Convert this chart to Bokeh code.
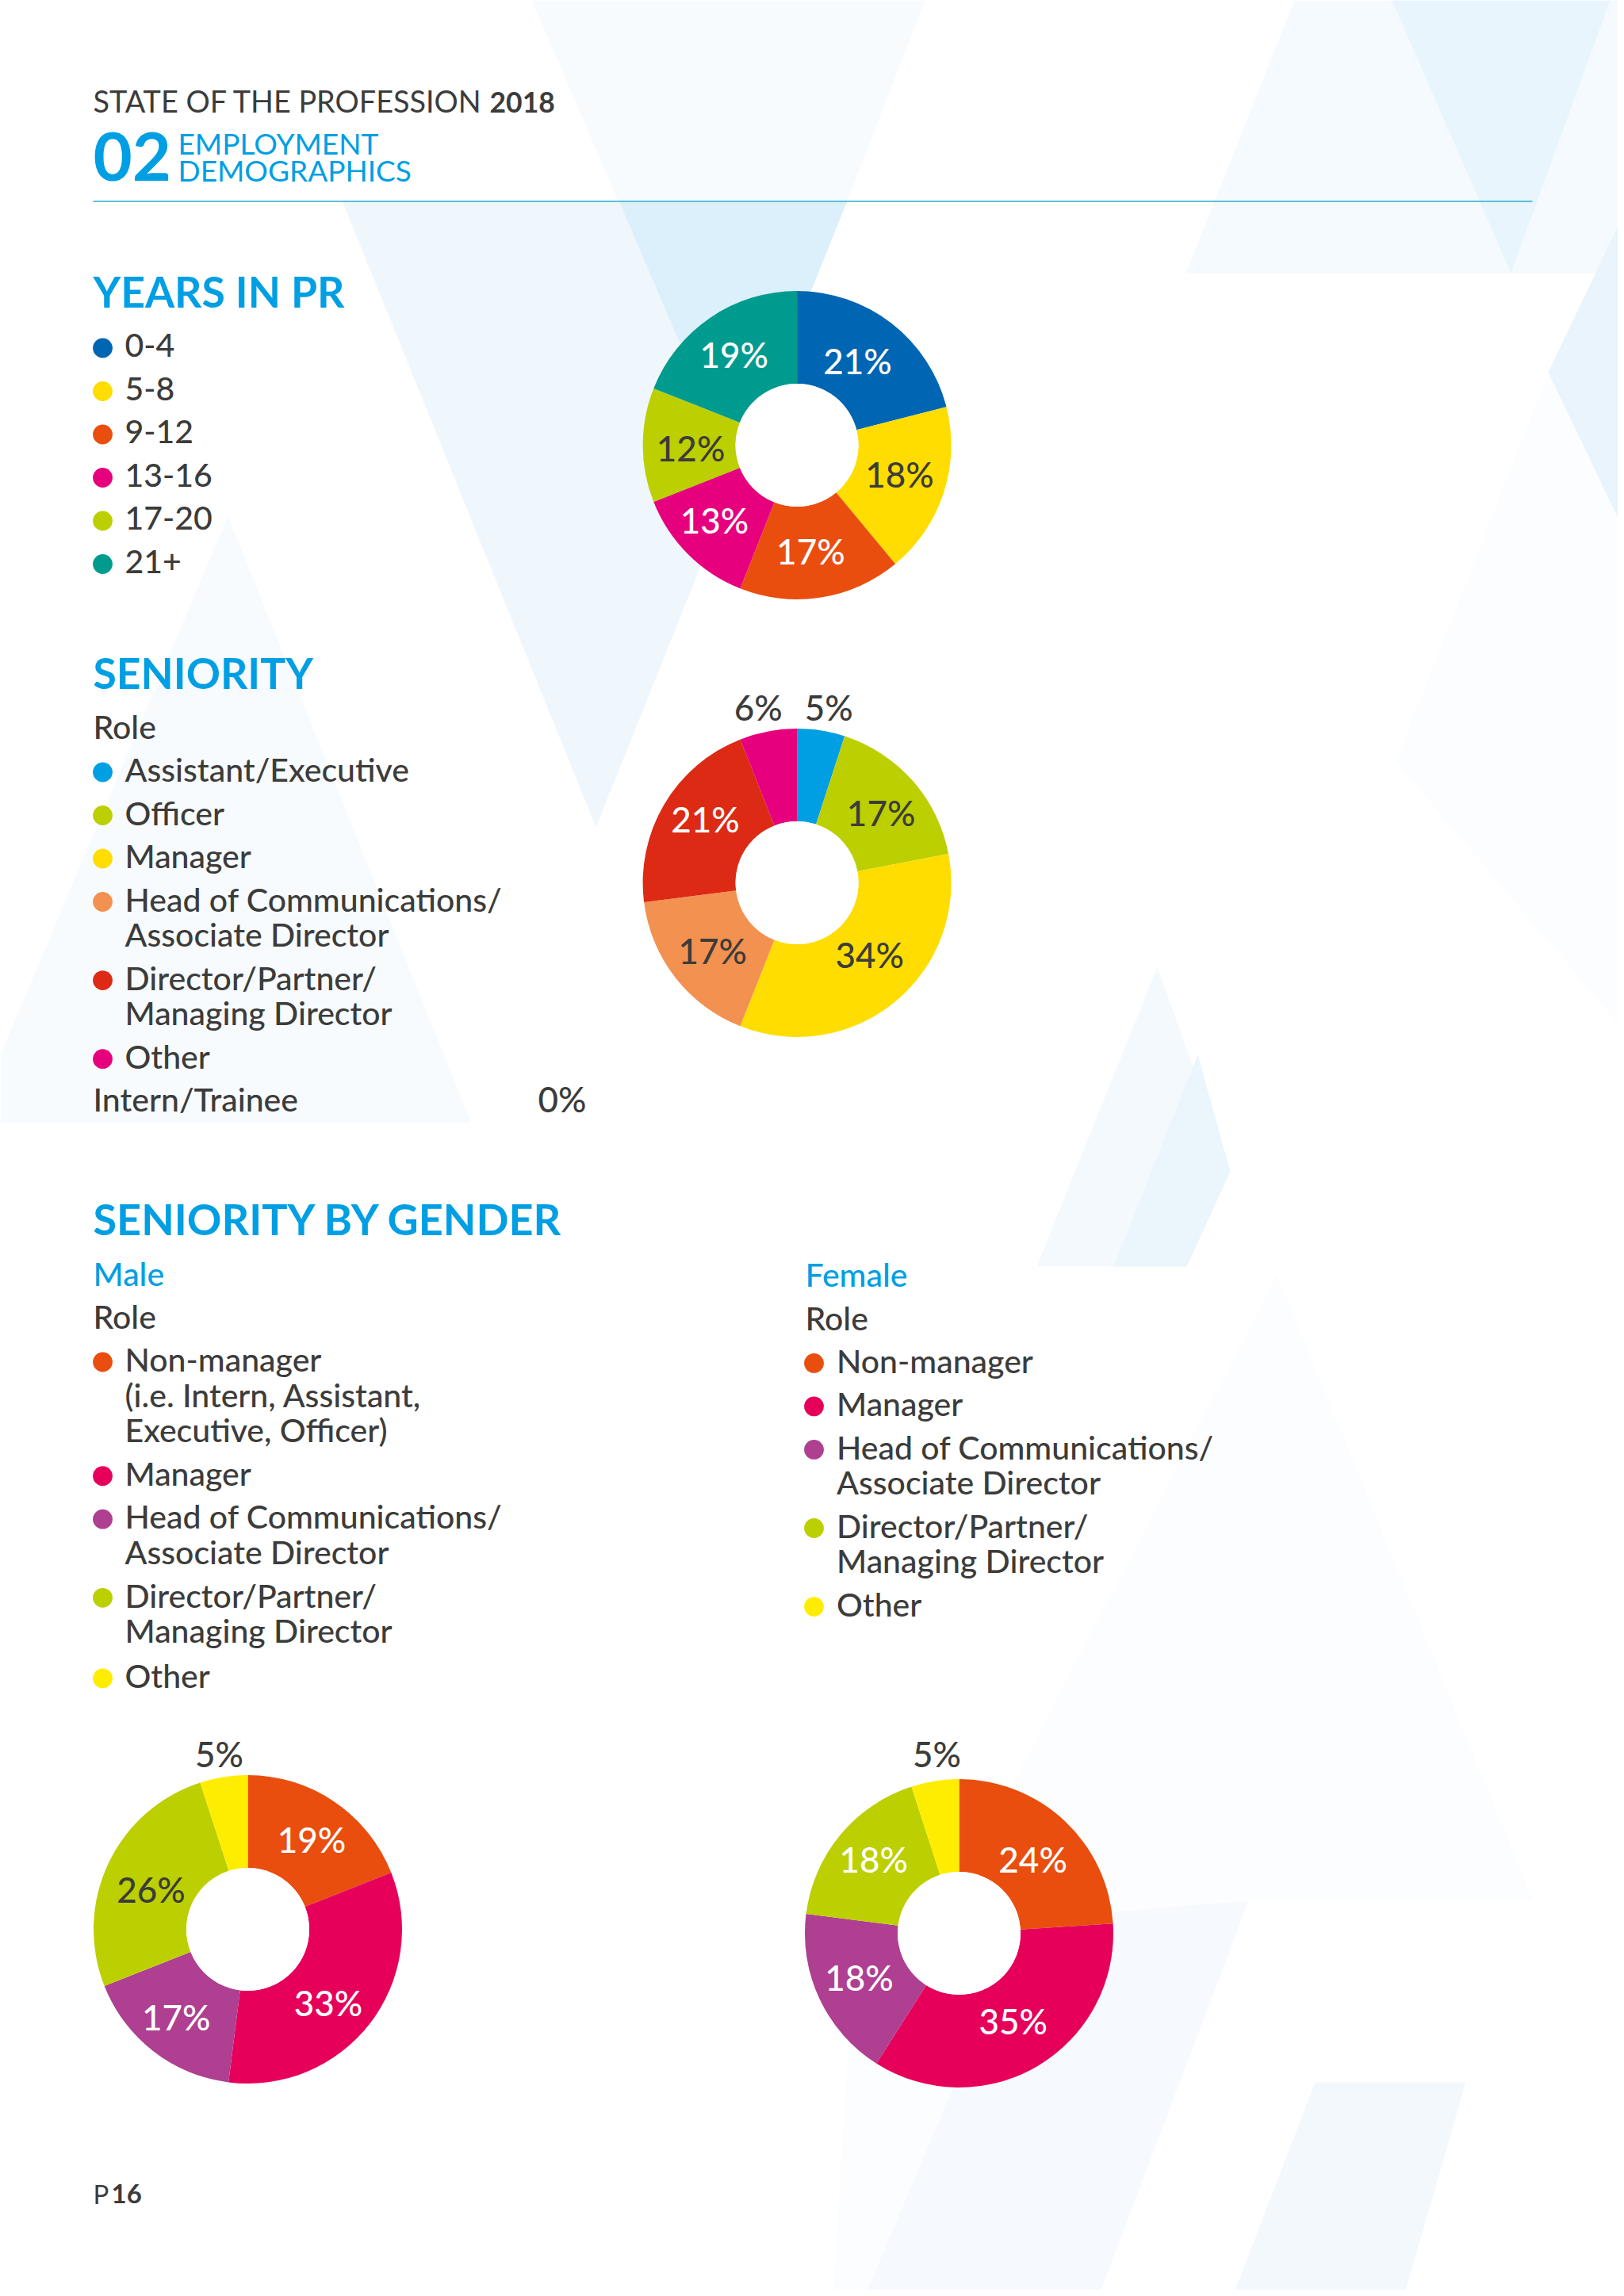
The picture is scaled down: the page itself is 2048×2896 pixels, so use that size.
from math import pi, sin, cos
from bokeh.core.properties import value
from bokeh.embed import file_html
from bokeh.models import ColumnDataSource, Range1d
from bokeh.plotting import figure
from bokeh.resources import INLINE

# ---------- data ----------
years_categories = ["0-4", "5-8", "9-12", "13-16", "17-20", "21+"]
years_values = [21, 18, 17, 13, 12, 19]

seniority_categories = ["Assistant/Executive", "Officer", "Manager",
                        "Head of Communications/\nAssociate Director",
                        "Director/Partner/\nManaging Director", "Other"]
seniority_values = [5, 17, 34, 17, 21, 6]
seniority_extra_label = "Intern/Trainee"
seniority_extra_value = 0

male_categories = ["Non-manager\n(i.e. Intern, Assistant,\nExecutive, Officer)", "Manager",
                   "Head of Communications/\nAssociate Director",
                   "Director/Partner/\nManaging Director", "Other"]
male_values = [19, 33, 17, 26, 5]

female_categories = ["Non-manager", "Manager",
                     "Head of Communications/\nAssociate Director",
                     "Director/Partner/\nManaging Director", "Other"]
female_values = [24, 35, 18, 18, 5]

# ---------- styles ----------
BLUE = "#009fe3"
DARK = "#3c3c3b"
FONT = "Lato Medium"
years_colors = ["#0066b3", "#ffdd00", "#e94e0f", "#e6007e", "#bccf00", "#009b8f"]
seniority_colors = ["#009fe3", "#bccf00", "#ffdd00", "#f39150", "#dc2a14", "#e6007e"]
gender_colors = ["#e94e0f", "#e6005a", "#ae3f91", "#bccf00", "#ffed00"]

years_label_colors = ["white", DARK, "white", "white", DARK, "white"]
seniority_label_colors = [DARK, DARK, DARK, DARK, "white", DARK]
male_label_colors = ["white", "white", "white", DARK, DARK]
female_label_colors = ["white", "white", "white", "white", DARK]

years_nudge = [(-7, 1), (0, -6), (-4, -1), (-8, -2), (2, 3), (-3, -2)]
seniority_nudge = [(5, 0), (4, 1), (5, -14), (1, 2), (1.5, -11), (-7, -1)]
male_nudge = [(4, -1), (-6, 9), (-7, 3.5), (1, 7.5), (-1, 0)]
female_nudge = [(0, 5.5), (-1, -7), (-3, -2), (-3, -7), (7, -5.5)]

W, H = 2040, 2888
p = figure(width=W, height=H, output_backend="svg", toolbar_location=None,
           x_range=Range1d(0, W), y_range=Range1d(H, 0),
           x_axis_location=None, y_axis_location=None, min_border=0,
           background_fill_color="white", border_fill_color="white", outline_line_color=None)
p.grid.visible = False

# ---------- background shapes ----------
bg_shapes = [
    ([1632, 2048, 2048, 1495], [0, 0, 344, 344], "#f5fafe"),
    ([1755, 2030, 1905], [0, 0, 344], "#e8f5fd"),
    ([2048, 1952, 2048], [268, 469, 670], "#e9f4fc"),
    ([1952, 2048, 2048, 1760], [469, 670, 1300, 960], "#fbfdff"),
    ([670, 1166, 1068, 928], [0, 0, 253, 599], "#f7fbfe"),
    ([431, 1068, 751], [253, 253, 1043], "#eff7fd"),
    ([780, 1068, 928], [253, 253, 599], "#dcf0fb"),
    ([0, 287, 594, 0], [1330, 650, 1416, 1416], "#f7fbfe"),
    ([1307, 1459, 1551, 1496], [1597, 1219, 1477, 1597], "#f4f9fd"),
    ([1404, 1510, 1551, 1496], [1597, 1330, 1477, 1597], "#ebf5fc"),
    ([1610, 1933, 1200], [1607, 2397, 2397], "#fbfdfe"),
    ([1080, 1574, 1385, 1050], [2397, 2397, 2896, 2896], "#fbfdfe"),
    ([1292, 1574, 1385, 1090], [2420, 2397, 2896, 2896], "#f6fafe"),
    ([1658, 1848, 1770, 1554], [2626, 2626, 2896, 2896], "#f3f8fd"),
]
for xs, ys, c in bg_shapes:
    p.patch(xs, ys, fill_color=c, line_color=None)


def text(x, baseline, s, size, color=DARK, bold=False, font=None):
    p.text([x], [baseline - 0.36 * size], text=[s],
           text_font=value(font or ("Lato" if bold else FONT)),
           text_font_size=f"{size}px", text_color=color,
           text_font_style="bold" if bold else "normal",
           text_align="left", text_baseline="middle")


# ---------- header ----------
text(117, 141, "STATE OF THE PROFESSION", 37.8, font="Lato")
text(617, 141, "2018", 35.5, bold=True)
text(117, 227.5, "02", 85, BLUE, bold=True)
text(224, 193.5, "EMPLOYMENT", 37, BLUE, font="Lato")
text(224, 227.5, "DEMOGRAPHICS", 37, BLUE, font="Lato")
p.line([117, 1932], [253.5, 253.5], line_color="#5bc0d8", line_width=1.8)

TITLE = 53.5
LEG = 41
VALUE = 44
text(117, 385.5, "YEARS IN PR", TITLE, BLUE, bold=True)
text(117, 867, "SENIORITY", TITLE, BLUE, bold=True)
text(117, 1556, "SENIORITY BY GENDER", 54, BLUE, bold=True)
text(117, 931, "Role", LEG)
text(117, 1675, "Role", LEG)
text(1015, 1676.4, "Role", LEG)
text(117, 1620.6, "Male", LEG, BLUE)
text(1015, 1622, "Female", LEG, BLUE)
text(117, 1401, seniority_extra_label, LEG)
text(678, 1401, f"{seniority_extra_value}%", VALUE)
text(117, 2778, "P", 33, font="Lato")
text(140, 2778, "16", 33, bold=True)


# ---------- legends ----------
def legend(marker_x, text_x, y, items, colors, extra_last=0.0):
    for i, (item, c) in enumerate(zip(items, colors)):
        if i == len(items) - 1:
            y += extra_last
        p.circle([marker_x], [y - 11.5], radius=12.4, fill_color=c, line_color=None)
        lines = item.split("\n")
        for j, line in enumerate(lines):
            text(text_x, y + j * 44.6, line, LEG)
        y += (len(lines) - 1) * 44.6 + 54.5


legend(129, 157, 450, years_categories, years_colors)
legend(129, 157, 985, seniority_categories, seniority_colors)
legend(129, 157, 1729, male_categories, gender_colors, extra_last=2.5)
legend(1026, 1054.5, 1730.4, female_categories, gender_colors)


# ---------- donuts ----------
def donut(cx, cy, values, colors, label_colors, nudges):
    total = sum(values)
    starts, ends, lx, ly, cum = [], [], [], [], 0
    for v, (dx, dy) in zip(values, nudges):
        starts.append(pi / 2 - 2 * pi * (cum + v) / total)
        ends.append(pi / 2 - 2 * pi * cum / total)
        mid = 2 * pi * (cum + v / 2) / total
        r = 136 if v > 8 else 224
        lx.append(cx + r * sin(mid) + dx)
        ly.append(cy - r * cos(mid) + dy)
        cum += v
    src = ColumnDataSource(dict(x=[cx] * len(values), y=[cy] * len(values), s=starts, e=ends,
                                c=colors, lx=lx, ly=ly, lc=label_colors,
                                t=[f"{v}%" for v in values]))
    p.annular_wedge("x", "y", inner_radius=77.5, outer_radius=194.5, start_angle="s", end_angle="e",
                    fill_color="c", line_color=None, source=src)
    p.circle([cx], [cy], radius=77.5, fill_color="white", line_color=None)
    p.text("lx", "ly", text="t", text_color="lc", text_font=value(FONT), text_font_size=f"{VALUE}px",
           text_align="center", text_baseline="middle", source=src)


donut(1004.6, 561, years_values, years_colors, years_label_colors, years_nudge)
donut(1004.6, 1113, seniority_values, seniority_colors, seniority_label_colors, seniority_nudge)
donut(312, 2433, male_values, gender_colors, male_label_colors, male_nudge)
donut(1209, 2438, female_values, gender_colors, female_label_colors, female_nudge)

open("out.html", "w").write(file_html(p, INLINE))
